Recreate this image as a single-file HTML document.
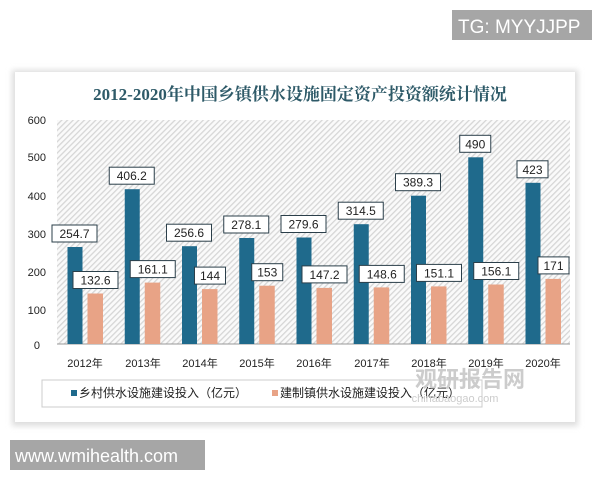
<!DOCTYPE html>
<html><head><meta charset="utf-8"><style>
body{margin:0;width:600px;height:480px;background:#fff;overflow:hidden;font-family:"Liberation Sans","Noto Sans CJK SC",sans-serif;}
</style></head><body>
<svg width="600" height="480" xmlns="http://www.w3.org/2000/svg" font-family="Liberation Sans, Noto Sans CJK SC, sans-serif">
<defs>
<pattern id="h" width="4" height="4" patternUnits="userSpaceOnUse" patternTransform="rotate(45)">
<rect width="4" height="4" fill="#fafafa"/><rect width="1.3" height="4" fill="#d6d6d6"/>
</pattern>
<filter id="s" x="-5%" y="-5%" width="110%" height="115%"><feGaussianBlur stdDeviation="3"/></filter>
</defs>
<rect x="452" y="10" width="140" height="30" fill="#a6a6a6"/>
<text x="458" y="33" font-size="19" fill="#fff">TG: MYYJJPP</text>
<rect x="12" y="70" width="566" height="356" fill="#ddd" filter="url(#s)"/>
<rect x="15" y="72" width="560" height="350" fill="#fff"/>
<text x="300" y="100" font-size="17" font-weight="bold" fill="#2e5a68" text-anchor="middle" font-family="Liberation Serif, Noto Serif CJK SC, serif">2012-2020年中国乡镇供水设施固定资产投资额统计情况</text>
<rect x="57" y="120" width="513" height="224" fill="url(#h)"/>
<line x1="57" y1="344" x2="570" y2="344" stroke="#999" stroke-width="1"/>
<g font-size="11" fill="#222" text-anchor="end">
<text x="46" y="124">600</text><text x="46" y="161">500</text><text x="46" y="200">400</text><text x="46" y="238">300</text><text x="46" y="276">200</text><text x="46" y="314">100</text><text x="40" y="349">0</text>
</g>
<g fill="#1f6a8c">
<rect x="67.5" y="247" width="15" height="97"/>
<rect x="124.75" y="189.2" width="15" height="154.8"/>
<rect x="182" y="246.2" width="15" height="97.8"/>
<rect x="239.25" y="238" width="15" height="106"/>
<rect x="296.5" y="237.5" width="15" height="106.5"/>
<rect x="353.75" y="224.2" width="15" height="119.8"/>
<rect x="411" y="195.7" width="15" height="148.3"/>
<rect x="468.25" y="157.3" width="15" height="186.7"/>
<rect x="525.5" y="182.8" width="15" height="161.2"/>
</g>
<g fill="#e8a386">
<rect x="87.5" y="293.5" width="15.5" height="50.5"/>
<rect x="144.75" y="282.6" width="15.5" height="61.4"/>
<rect x="202" y="289.1" width="15.5" height="54.9"/>
<rect x="259.25" y="285.7" width="15.5" height="58.3"/>
<rect x="316.5" y="287.9" width="15.5" height="56.1"/>
<rect x="373.75" y="287.4" width="15.5" height="56.6"/>
<rect x="431" y="286.4" width="15.5" height="57.6"/>
<rect x="488.25" y="284.5" width="15.5" height="59.5"/>
<rect x="545.5" y="278.9" width="15.5" height="65.1"/>
</g>
<g fill="#fff" stroke="#2b3f4a" stroke-width="1">
<rect x="52" y="225" width="45" height="17"/>
<rect x="73" y="271.5" width="45" height="17"/>
<rect x="109.25" y="167.2" width="45" height="17"/>
<rect x="130.25" y="260.6" width="45" height="17"/>
<rect x="166.5" y="224.2" width="45" height="17"/>
<rect x="194.5" y="267.1" width="31" height="17"/>
<rect x="223.75" y="216" width="45" height="17"/>
<rect x="251.75" y="263.7" width="31" height="17"/>
<rect x="281" y="215.5" width="45" height="17"/>
<rect x="302" y="265.9" width="45" height="17"/>
<rect x="338.25" y="202.2" width="45" height="17"/>
<rect x="359.25" y="265.4" width="45" height="17"/>
<rect x="395.5" y="173.7" width="45" height="17"/>
<rect x="416.5" y="264.4" width="45" height="17"/>
<rect x="459.75" y="135.3" width="31" height="17"/>
<rect x="473.75" y="262.5" width="45" height="17"/>
<rect x="517" y="160.8" width="31" height="17"/>
<rect x="538" y="256.9" width="31" height="17"/>
</g>
<g font-size="12" fill="#222" text-anchor="middle">
<text x="74.5" y="238">254.7</text>
<text x="95.5" y="284.5">132.6</text>
<text x="131.75" y="180.2">406.2</text>
<text x="152.75" y="273.6">161.1</text>
<text x="189" y="237.2">256.6</text>
<text x="210" y="280.1">144</text>
<text x="246.25" y="229">278.1</text>
<text x="267.25" y="276.7">153</text>
<text x="303.5" y="228.5">279.6</text>
<text x="324.5" y="278.9">147.2</text>
<text x="360.75" y="215.2">314.5</text>
<text x="381.75" y="278.4">148.6</text>
<text x="418" y="186.7">389.3</text>
<text x="439" y="277.4">151.1</text>
<text x="475.25" y="148.3">490</text>
<text x="496.25" y="275.5">156.1</text>
<text x="532.5" y="173.8">423</text>
<text x="553.5" y="269.9">171</text>
</g>
<g font-size="11" fill="#222" text-anchor="middle">
<text x="85" y="367">2012年</text><text x="143" y="367">2013年</text><text x="200" y="367">2014年</text><text x="257" y="367">2015年</text><text x="314" y="367">2016年</text><text x="372" y="367">2017年</text><text x="429" y="367">2018年</text><text x="486" y="367">2019年</text><text x="543" y="367">2020年</text>
</g>
<rect x="42" y="380" width="440" height="27" fill="#fff" stroke="#ccc"/>
<rect x="71" y="390" width="6" height="6" fill="#1f6a8c"/>
<text x="79" y="397" font-size="12" fill="#222">乡村供水设施建设投入（亿元）</text>
<rect x="272" y="390" width="6" height="6" fill="#e8a386"/>
<text x="280" y="397" font-size="12" fill="#222">建制镇供水设施建设投入（亿元）</text>
<text x="470" y="387" font-size="22" font-weight="bold" fill="#ccc" text-anchor="middle">观研报告网</text>
<text x="455" y="402" font-size="11" fill="#ccc" text-anchor="middle">chinabaogao.com</text>
<rect x="10" y="440" width="195" height="30" fill="#a6a6a6"/>
<text x="15" y="462" font-size="18" fill="#fff">www.wmihealth.com</text>
</svg>
</body></html>
